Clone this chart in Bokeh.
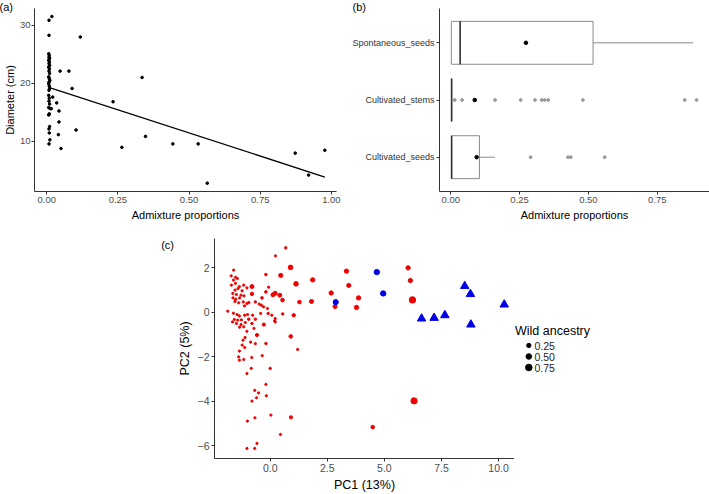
import numpy as np
from bokeh.plotting import figure
from bokeh.layouts import row, column
from bokeh.models import Range1d, FixedTicker, Title
from bokeh.embed import file_html
from bokeh.resources import INLINE

FONT = "Liberation Sans"
AXIS = "#333333"

# ---------------- Panel (a): diameter vs admixture ----------------
a_admix = [0.018, 0.008, 0.008, 0.118,
           0.007, 0.009, 0.008, 0.010, 0.007, 0.009, 0.008, 0.010, 0.007, 0.009,
           0.008, 0.010, 0.007, 0.009, 0.011, 0.008, 0.007, 0.009, 0.010, 0.008,
           0.007, 0.009, 0.008, 0.010, 0.007, 0.012, 0.009, 0.007, 0.010, 0.008,
           0.009, 0.011, 0.008,
           0.047, 0.078, 0.089, 0.021, 0.035, 0.016, 0.043, 0.043, 0.041, 0.103, 0.050,
           0.233, 0.335, 0.264, 0.347, 0.443, 0.532, 0.564, 0.873, 0.920, 0.977]
a_diam = [31.55, 30.9, 28.3, 28.0,
          25.1, 24.8, 24.5, 24.3, 24.0, 23.7, 23.4, 23.1, 22.8, 22.5,
          22.1, 21.7, 21.1, 20.8, 20.5, 20.2, 19.9, 19.5, 19.1, 18.8,
          17.9, 17.4, 16.9, 16.4, 15.8, 15.6, 14.7, 14.5, 12.5, 12.1,
          11.4, 10.2, 9.5,
          22.1, 22.1, 19.1, 17.6, 16.6, 15.6, 15.2, 13.3, 11.1, 11.9, 8.7,
          16.8, 21.0, 8.9, 10.8, 9.5, 9.5, 2.7, 7.9, 4.1, 8.4]
fit_intercept = 19.4
fit_slope = -16.0
a_xticks = [0.0, 0.25, 0.5, 0.75, 1.0]
a_xlabels = ["0.00", "0.25", "0.50", "0.75", "1.00"]
a_yticks = [10, 20, 30]
a_ylabels = ["10", "20", "30"]

# ---------------- Panel (b): boxplots ----------------
b_groups = ["Cultivated_seeds", "Cultivated_stems", "Spontaneous_seeds"]
b_q1 = [0.003, 0.003, 0.002]
b_median = [0.003, 0.003, 0.034]
b_q3 = [0.104, 0.003, 0.517]
b_whisk_lo = [0.003, 0.003, 0.002]
b_whisk_hi = [0.160, 0.003, 0.880]
b_mean = [0.094, 0.087, 0.273]
b_out_seeds = [0.290, 0.426, 0.436, 0.559]
b_out_stems = [0.0145, 0.041, 0.087, 0.161, 0.254, 0.306, 0.330, 0.341, 0.354, 0.480, 0.850, 0.893]
b_xticks = [0.0, 0.25, 0.5, 0.75]
b_xlabels = ["0.00", "0.25", "0.50", "0.75"]

# ---------------- Panel (c): PCA ----------------
red_x = [-1.60, -1.71, -1.52, -1.61, -1.44, -1.52, -1.70, -1.35, -1.16, -1.02, -1.41, -1.54, -1.23,
         -1.64, -1.48, -1.28, -1.15, -1.63, -1.51, -1.34, -1.54, -1.38, -1.18, -0.94, -0.65, -0.48,
         -0.39, -1.13, -1.02, -1.86, -1.61, -1.45, -1.35, -1.12, -0.99, -1.57, -1.65, -1.42, -1.26,
         -0.94, -1.48, -1.28, -1.09, -0.80, -0.71, -1.16, -1.34, -1.02, -0.77, -0.65, -0.42, -0.19,
         -0.19, -0.07, -0.36, -0.29, -0.12, -0.09, 0.07, 0.22, 0.19, 0.55, -1.19, -1.10, -1.23,
         -1.12, -1.35, -1.38, -1.35, -1.16, -0.81, -0.65, -0.86, -0.19, -0.35, 0.00, -1.02, -0.83,
         -0.19, -0.17, -0.68, -0.51, -0.60, -0.80, 0.03, 0.45, -1.00, -0.67, -0.58, -0.68, -1.02,
         1.20, 0.22,
         0.68, 0.23, 0.89, 0.46, 1.13, 1.86, 3.34, 3.44, 3.87, 3.78, 2.67, 2.84, 1.81, 1.28, 0.12,
         0.22, 0.42, 0.54, -0.80, -0.80, 1.03, -0.28, -0.58, 0.90, 0.91, 4.49, 6.04, 6.14, 6.23, 6.30]
red_y = [1.90, 1.64, 1.57, 1.45, 1.52, 1.30, 1.22, 1.16, 1.22, 1.10, 1.07, 1.00, 0.97,
         0.85, 0.80, 0.77, 0.74, 0.65, 0.59, 0.65, 0.49, 0.43, 0.47, 0.44, 0.47, 0.37,
         0.32, 0.29, 0.40, 0.05, -0.04, -0.10, -0.16, -0.13, -0.10, -0.32, -0.43, -0.35, -0.34,
         -0.31, -0.50, -0.55, -0.46, -0.50, -0.72, -0.65, -0.67, -0.85, -0.13, -0.31, -0.05, 0.92,
         1.70, 1.13, 0.65, 0.25, 0.17, -0.05, -0.13, -0.28, -0.38, -0.07, -1.25, -1.13, -1.47,
         -1.58, -1.74, -2.00, -2.15, -2.12, -2.03, -1.41, -1.34, -1.40, -1.95, -2.52, -2.75, -2.52,
         -3.24, -3.75, -3.51, -3.62, -3.84, -3.99, -4.62, -5.49, -4.89, -4.74, -5.89, -6.12, -6.12,
         -1.67, -0.43,
         2.90, 2.54, 2.02, 1.66, 1.28, 1.46, 1.85, 1.21, 0.65, 0.22, 0.87, 0.26, 0.49, 0.46, 0.79,
         0.86, 0.77, 0.55, 1.16, 0.83, -0.13, -0.55, -1.02, -1.08, -4.72, -5.16, 2.00, 1.43, 0.56, -3.98]
red_wild = [0.03] * 23 + [0.04, 0.04, 0.03, 0.03, 0.03, 0.03] + [0.03] * 10 + [0.05, 0.03, 0.03, 0.03, 0.04,
            0.03, 0.03, 0.03, 0.03, 0.03, 0.04, 0.03, 0.05, 0.05, 0.03, 0.05, 0.03, 0.03, 0.04, 0.03,
            0.03, 0.03, 0.04] + [0.03] * 11 + [0.04, 0.03, 0.04, 0.03, 0.03] + [0.03] * 15 + [0.04, 0.03] + \
           [0.30, 0.22, 0.30, 0.25, 0.25, 0.22, 0.25, 0.25, 0.25, 0.22, 0.22, 0.15, 0.20, 0.20, 0.20,
            0.15, 0.20, 0.12, 0.12, 0.10, 0.10, 0.15, 0.10, 0.15, 0.25, 0.25, 0.70, 0.65, 0.70, 0.65]
blue_x = [2.87, 4.67, 4.95]
blue_y = [0.46, 1.81, 0.85]
blue_wild = [0.40, 0.45, 0.45]
tri_x = [8.52, 8.77, 10.25, 6.63, 7.18, 7.65, 8.79]
tri_y = [1.18, 0.82, 0.35, -0.28, -0.25, -0.13, -0.55]
c_xticks = [0.0, 2.5, 5.0, 7.5, 10.0]
c_xlabels = ["0.0", "2.5", "5.0", "7.5", "10.0"]
c_yticks = [-6, -4, -2, 0, 2]
c_ylabels = ["\u22126", "\u22124", "\u22122", "0", "2"]
legend_values = [0.25, 0.50, 0.75]
legend_labels = ["0.25", "0.50", "0.75"]

RED = "#ee0000"
BLUE = "#0000e6"


def dot_size(v):
    return 1.2 + 6.2 * np.sqrt(np.asarray(v, dtype=float))


def style(p, tick_size, title_size):
    for ax in list(p.xaxis) + list(p.yaxis):
        ax.axis_line_color = AXIS
        ax.axis_line_width = 1
        ax.major_tick_line_color = AXIS
        ax.major_tick_out = 3
        ax.major_tick_in = 0
        ax.minor_tick_line_color = None
        ax.major_label_text_font = FONT
        ax.major_label_text_font_size = tick_size
        ax.major_label_text_color = "#4d4d4d"
        ax.axis_label_text_font = FONT
        ax.axis_label_text_font_size = title_size
        ax.axis_label_text_font_style = "normal"
        ax.axis_label_text_color = "black"
        ax.major_label_standoff = 2
        ax.axis_label_standoff = 3
    p.xgrid.visible = False
    p.ygrid.visible = False
    p.outline_line_color = None
    p.background_fill_color = "white"
    p.border_fill_color = "white"


def panel_title(p, text, offset):
    t = Title(text=text, align="left", offset=offset, standoff=0, vertical_align="bottom",
              text_font=FONT, text_font_size="11px", text_font_style="normal",
              text_color="black")
    try:
        t.standoff = -9
    except Exception:
        pass
    p.add_layout(t, "above")


def blank(width, height):
    f = figure(width=width, height=height, title=None, output_backend="svg", toolbar_location=None,
               x_range=Range1d(0, width), y_range=Range1d(height, 0),
               x_axis_location=None, y_axis_location=None,
               min_border_left=0, min_border_right=0, min_border_top=0, min_border_bottom=0)
    f.frame_align = False
    f.xgrid.visible = False
    f.ygrid.visible = False
    f.outline_line_color = None
    return f


TOP_H = 233

# ---- (a)
pa = figure(width=345, height=TOP_H, title=None, output_backend="svg", toolbar_location=None,
            x_range=Range1d(-0.043, 1.018), y_range=Range1d(1.26, 32.94),
            min_border_left=34, min_border_right=9, min_border_top=8, min_border_bottom=41)
style(pa, "9.5px", "11px")
pa.yaxis.major_label_standoff = 1
pa.yaxis.axis_label_standoff = 1
pa.xaxis.axis_label = "Admixture proportions"
pa.yaxis.axis_label = "Diameter (cm)"
pa.xaxis.ticker = FixedTicker(ticks=a_xticks)
pa.xaxis.major_label_overrides = dict(zip(a_xticks, a_xlabels))
pa.yaxis.ticker = FixedTicker(ticks=a_yticks)
pa.yaxis.major_label_overrides = dict(zip(a_yticks, a_ylabels))
pa.scatter(a_admix, a_diam, size=2.6, color="black")
fx = np.array([min(a_admix), max(a_admix)])
pa.line(fx, fit_intercept + fit_slope * fx, line_color="black", line_width=1.3)
panel_title(pa, "(a)", -35)

# ---- (b)
pb = figure(width=364, height=TOP_H, title=None, output_backend="svg", toolbar_location=None,
            x_range=Range1d(-0.041, 0.94), y_range=Range1d(0.4, 3.6),
            min_border_left=94, min_border_right=0, min_border_top=8, min_border_bottom=42)
style(pb, "9.5px", "11px")
pb.xaxis.axis_label = "Admixture proportions"
pb.xaxis.ticker = FixedTicker(ticks=b_xticks)
pb.xaxis.major_label_overrides = dict(zip(b_xticks, b_xlabels))
b_pos = list(range(1, len(b_groups) + 1))
pb.yaxis.ticker = FixedTicker(ticks=b_pos)
pb.yaxis.major_label_overrides = dict(zip(b_pos, b_groups))
pb.yaxis.major_label_text_color = "#333333"
pb.yaxis.major_label_text_font_size = "9px"
half = 0.375
BOXC = "#8a8a8a"
pb.segment(x0=b_q3, y0=b_pos, x1=b_whisk_hi, y1=b_pos, line_color=BOXC, line_width=1)
pb.segment(x0=b_whisk_lo, y0=b_pos, x1=b_q1, y1=b_pos, line_color=BOXC, line_width=1)
pb.quad(left=b_q1, right=b_q3, bottom=[p - half for p in b_pos], top=[p + half for p in b_pos],
        fill_color="white", line_color=BOXC, line_width=1)
pb.segment(x0=b_median, y0=[p - half for p in b_pos], x1=b_median, y1=[p + half for p in b_pos],
           line_color="#333333", line_width=1.6)
pb.scatter(b_out_seeds, [b_pos[0]] * len(b_out_seeds), size=2.8, color="#9a9a9a")
pb.scatter(b_out_stems, [b_pos[1]] * len(b_out_stems), size=2.8, color="#9a9a9a")
pb.scatter(b_mean, b_pos, size=3.6, color="black")
panel_title(pb, "(b)", -87)

# ---- (c)
BOT_H = 494 - TOP_H
STRIP_W = 174
C_TOP = 5
sc = blank(STRIP_W, BOT_H)
sc.text(x=[STRIP_W - 0.5], y=[C_TOP], text=["(c)"], text_font_size="11px",
        text_baseline="top", text_align="right", text_color="black",
        text_font={"value": FONT})

pc = figure(width=514 - STRIP_W, height=BOT_H, title=None, output_backend="svg", toolbar_location=None,
            x_range=Range1d(-2.44, 10.70), y_range=Range1d(-6.57, 3.32),
            min_border_left=212 - STRIP_W, min_border_right=0, min_border_top=C_TOP, min_border_bottom=36)
pc.frame_align = False
style(pc, "10.5px", "12.5px")
pc.xaxis.axis_label = "PC1 (13%)"
pc.yaxis.axis_label = "PC2 (5%)"
pc.xaxis.ticker = FixedTicker(ticks=c_xticks)
pc.xaxis.major_label_overrides = dict(zip(c_xticks, c_xlabels))
pc.yaxis.ticker = FixedTicker(ticks=c_yticks)
pc.yaxis.major_label_overrides = dict(zip(c_yticks, c_ylabels))
pc.scatter(red_x, red_y, size=dot_size(red_wild), color=RED)
pc.scatter(blue_x, blue_y, size=dot_size(blue_wild), color=BLUE)
pc.scatter(tri_x, tri_y, marker="triangle", size=8.5, color=BLUE)

# ---- legend panel
pl = blank(709 - 514, BOT_H)
leg_y = [112, 123, 134]
pl.text(x=[0.5], y=[97], text=["Wild ancestry"], text_font_size="12.5px",
        text_baseline="middle", text_align="left", text_color="black",
        text_font={"value": FONT})
pl.scatter([14.3] * 3, leg_y, size=dot_size(legend_values), color="black")
pl.text(x=[20] * 3, y=leg_y, text=legend_labels, text_font_size="10.5px",
        text_baseline="middle", text_align="left", text_color="#222222",
        text_font={"value": FONT})

layout = column(row(pa, pb), row(sc, pc, pl))
open("out.html", "w").write(file_html(layout, INLINE))
